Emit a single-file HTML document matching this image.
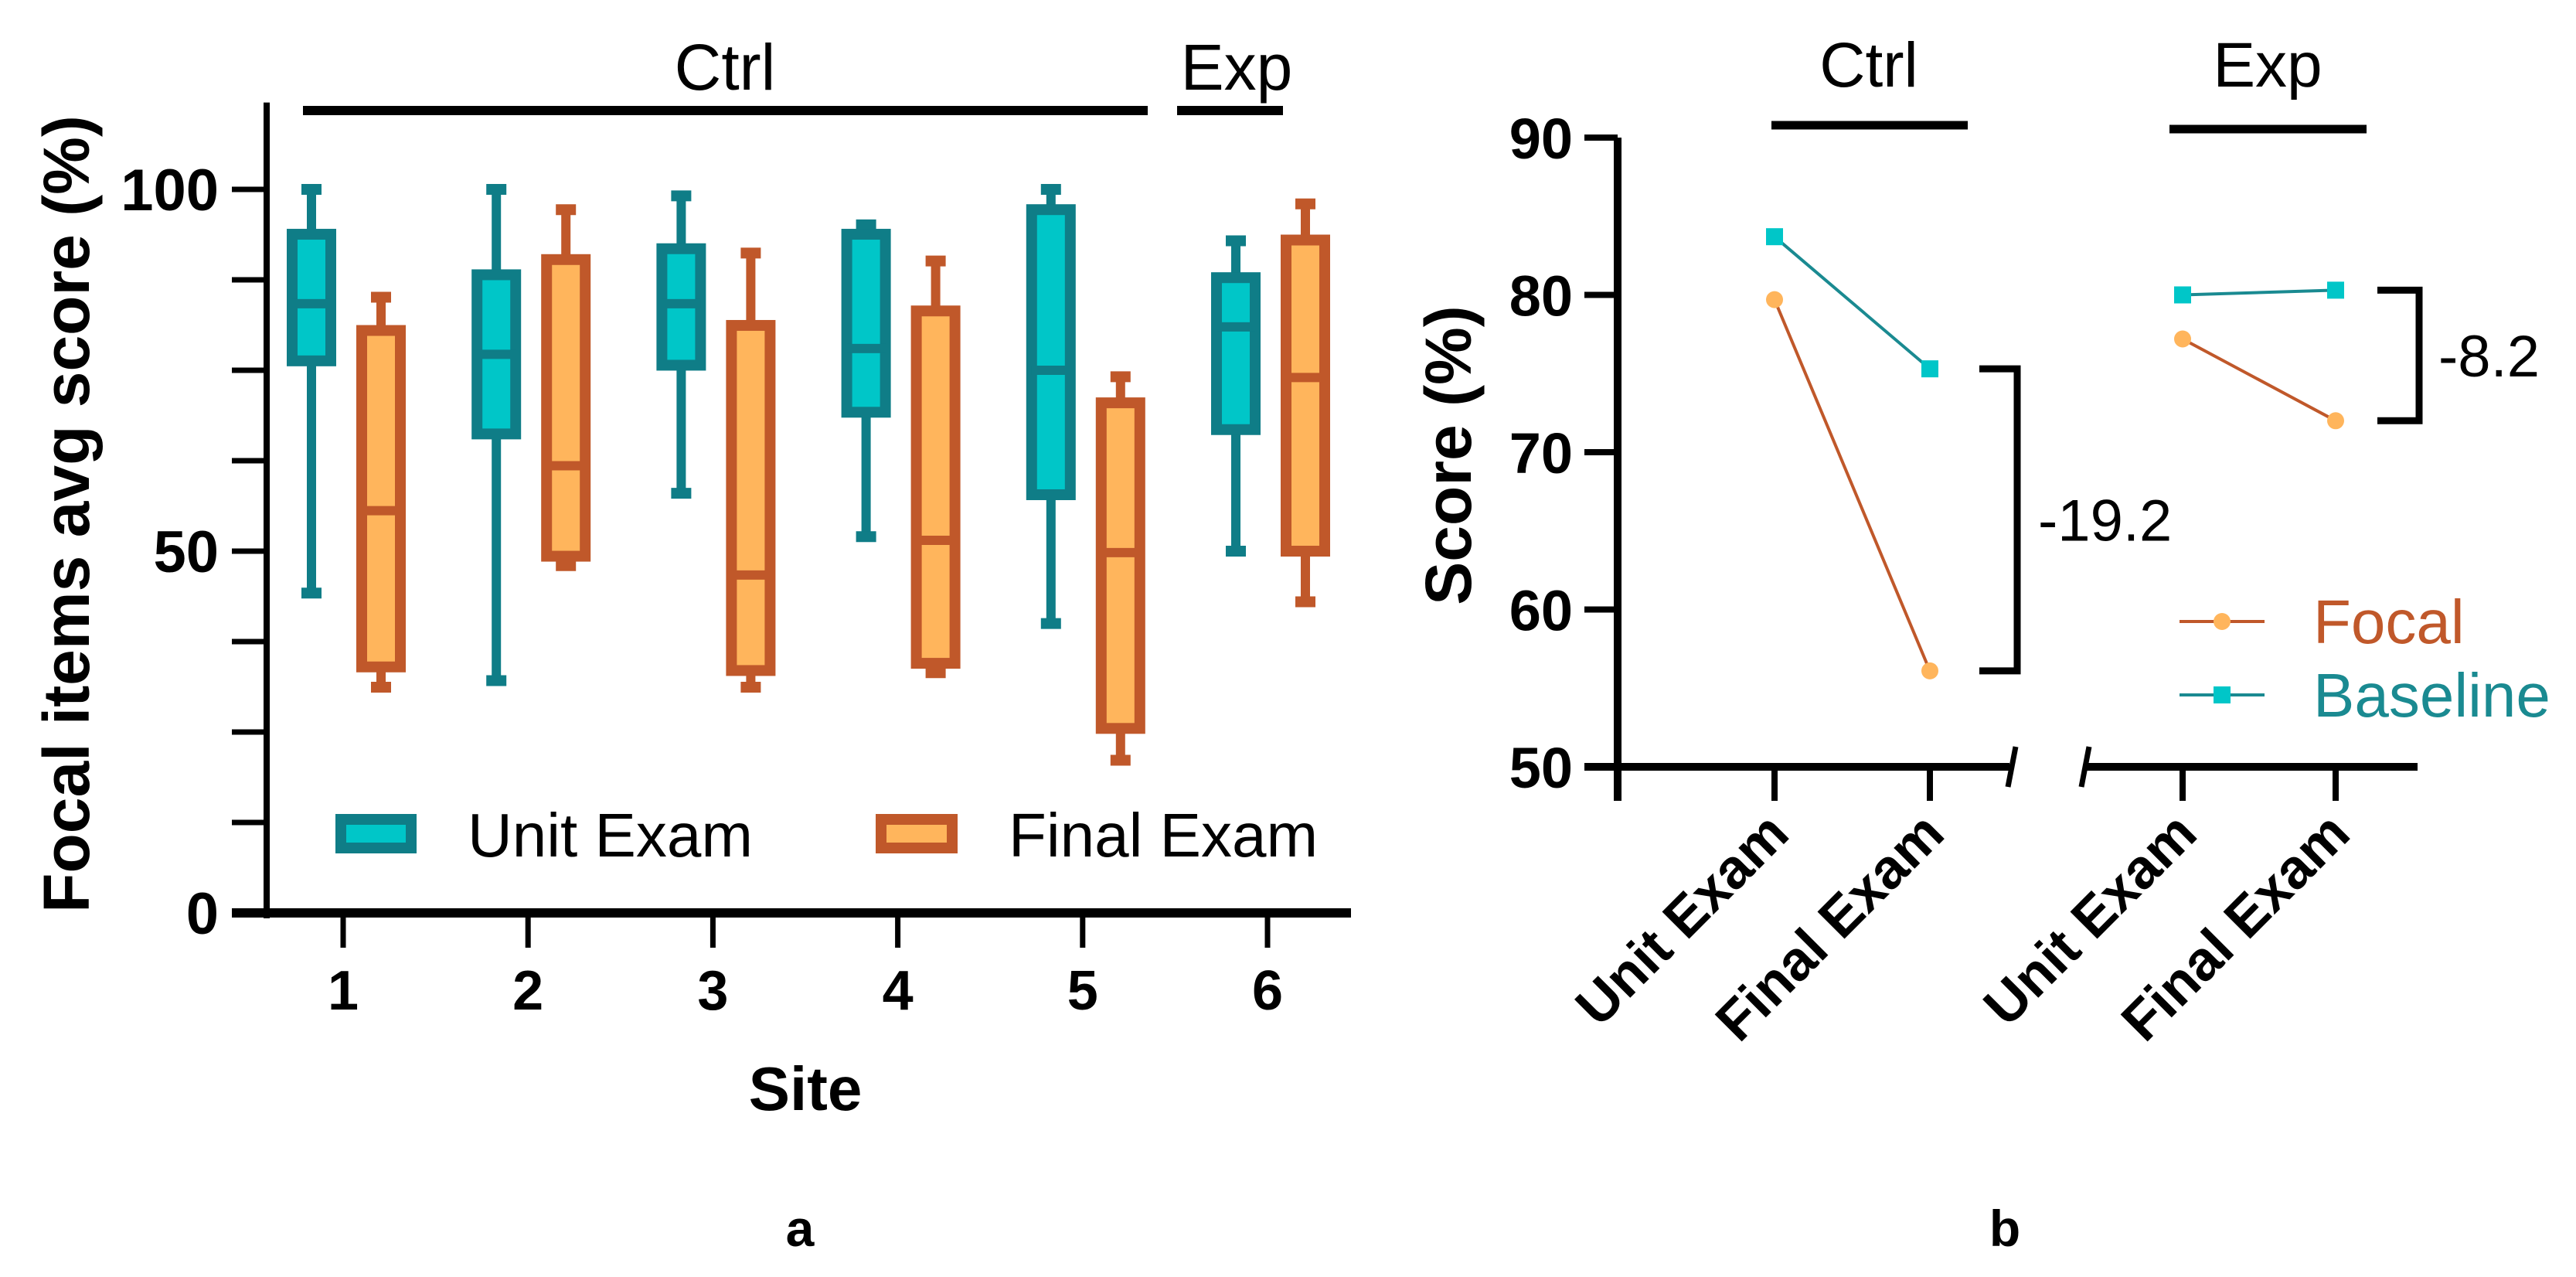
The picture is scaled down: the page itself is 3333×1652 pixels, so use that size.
<!DOCTYPE html>
<html><head><meta charset="utf-8"><style>
html,body{margin:0;padding:0;background:#fff;width:3333px;height:1652px;overflow:hidden}
svg{display:block;font-family:"Liberation Sans",Arial,sans-serif}
</style></head><body>
<svg id="chart" width="3333" height="1652" viewBox="0 0 3333 1652" xmlns="http://www.w3.org/2000/svg"></svg>
<script>
// ---- Panel a data ----
const sites = ["1","2","3","4","5","6"];
const unitMin = [44.2, 32.1, 58, 52, 40, 50];
const unitQ1  = [76.3, 66.2, 75.7, 69.2, 57.8, 66.8];
const unitMed = [84.2, 77.2, 84.2, 78, 75, 81];
const unitQ3  = [93.8, 88.2, 91.8, 93.8, 97.2, 87.8];
const unitMax = [100, 100, 99.1, 95.1, 100, 92.9];
const finMin = [31.2, 48, 31.2, 33.2, 21.1, 43];
const finQ1  = [34, 49.3, 33.5, 34.5, 25.5, 50];
const finMed = [55.6, 61.8, 46.7, 51.5, 49.8, 74];
const finQ3  = [80.5, 90.3, 81.2, 83.2, 70.5, 93];
const finMax = [85.1, 97.2, 91.2, 90.1, 74.1, 98];
const aTicks = [0, 50, 100];
// ---- Panel b data ----
const bCats = ["Unit Exam","Final Exam","Unit Exam","Final Exam"];
const focalVals = [79.7, 56.1, 77.2, 72.0];
const baseVals  = [83.7, 75.3, 80.0, 80.3];
const bTicks = [50, 60, 70, 80, 90];
const diffLabels = ["-19.2", "-8.2"];

const svg = document.getElementById('chart');
const NS = "http://www.w3.org/2000/svg";
function mk(tag, attrs, parent){ const e=document.createElementNS(NS,tag); for(const k in attrs) e.setAttribute(k,attrs[k]); (parent||svg).appendChild(e); return e; }
function txt(s, attrs, parent){ const e=mk('text',attrs,parent); e.textContent=s; return e; }

const TEAL_S="#0f7d87", TEAL_F="#00c6c8", OR_S="#c0582a", OR_F="#ffb55c";

// ---- Panel a ----
const aY = v => 1181 - v*9.36;
const aX = i => 444 + i*239.2;
const gA = mk('g',{});
 
let l = mk('line',{x1:345,y1:aY(112),x2:345,y2:1188,stroke:'#000','stroke-width':8},gA);
 
l = mk('line',{x1:300,y1:1181,x2:1748,y2:1181,stroke:'#000','stroke-width':12},gA);
 
for(let v=0; v<=100; v+=12.5){
  mk('line',{x1:300,y1:aY(v),x2:345,y2:aY(v),stroke:'#000','stroke-width':7},gA);
}
aTicks.forEach(v=>{
  const t=txt(String(v),{x:283,y:aY(v)+27,'font-size':76,'font-weight':'bold','text-anchor':'end'},gA);
   
});
sites.forEach((s,i)=>{
  mk('line',{x1:aX(i),y1:1181,x2:aX(i),y2:1226,stroke:'#000','stroke-width':7},gA);
  const t=txt(s,{x:aX(i),y:1306,'font-size':72,'font-weight':'bold','text-anchor':'middle'},gA);
   
});
function box(cx, mn, q1, md, q3, mx, sc, fc, name){
  const g=mk('g',{},gA);
   
  const w=50;
  mk('line',{x1:cx,y1:aY(mx),x2:cx,y2:aY(q3),stroke:sc,'stroke-width':12},g);
  mk('line',{x1:cx,y1:aY(q1),x2:cx,y2:aY(mn),stroke:sc,'stroke-width':12},g);
  mk('line',{x1:cx-13,y1:aY(mx),x2:cx+13,y2:aY(mx),stroke:sc,'stroke-width':14},g);
  mk('line',{x1:cx-13,y1:aY(mn),x2:cx+13,y2:aY(mn),stroke:sc,'stroke-width':14},g);
  mk('rect',{x:cx-w/2,y:aY(q3),width:w,height:aY(q1)-aY(q3),fill:fc,stroke:sc,'stroke-width':14},g);
  mk('line',{x1:cx-w/2,y1:aY(md),x2:cx+w/2,y2:aY(md),stroke:sc,'stroke-width':12},g);
}
sites.forEach((s,i)=>{
  box(aX(i)-41, unitMin[i],unitQ1[i],unitMed[i],unitQ3[i],unitMax[i],TEAL_S,TEAL_F,'box-unit-site'+s);
  box(aX(i)+49, finMin[i],finQ1[i],finMed[i],finQ3[i],finMax[i],OR_S,OR_F,'box-final-site'+s);
});
l=mk('line',{x1:392,y1:143,x2:1485,y2:143,stroke:'#000','stroke-width':12},gA);
 
l=mk('line',{x1:1523,y1:143,x2:1660,y2:143,stroke:'#000','stroke-width':12},gA);
 
let t=txt('Ctrl',{x:938,y:116,'font-size':84,'text-anchor':'middle'},gA);
 
t=txt('Exp',{x:1600,y:116,'font-size':84,'text-anchor':'middle'},gA);
 
t=txt('Focal items avg score (%)',{x:0,y:0,'font-size':84,'font-weight':'bold','text-anchor':'middle',transform:'translate(115,665) rotate(-90)'},gA);
 
t=txt('Site',{x:1042,y:1436,'font-size':80,'font-weight':'bold','text-anchor':'middle'},gA);
 
let lg=mk('g',{},gA);  
mk('rect',{x:441,y:1060,width:91,height:37,fill:TEAL_F,stroke:TEAL_S,'stroke-width':14},lg);
txt('Unit Exam',{x:605,y:1108,'font-size':80},lg);
lg=mk('g',{},gA);  
mk('rect',{x:1140,y:1060,width:92,height:37,fill:OR_F,stroke:OR_S,'stroke-width':14},lg);
txt('Final Exam',{x:1305,y:1108,'font-size':80},lg);
t=txt('a',{x:1035,y:1612,'font-size':66,'font-weight':'bold','text-anchor':'middle'});
 

// ---- Panel b ----
const bY = v => 992 - (v-50)*20.35;
const bXpos = [2296, 2497, 2824, 3022];
const bX = i => bXpos[i];
const gB=mk('g',{});  
l=mk('line',{x1:2093,y1:bY(90),x2:2093,y2:1036,stroke:'#000','stroke-width':10},gB);
 
l=mk('line',{x1:2050,y1:992,x2:2600,y2:992,stroke:'#000','stroke-width':10},gB);
 
l=mk('line',{x1:2697,y1:992,x2:3128,y2:992,stroke:'#000','stroke-width':10},gB);
 
mk('line',{x1:2608,y1:966,x2:2598,y2:1018,stroke:'#000','stroke-width':7},gB);
mk('line',{x1:2703,y1:966,x2:2693,y2:1018,stroke:'#000','stroke-width':7},gB);
bTicks.forEach(v=>{
  mk('line',{x1:2050,y1:bY(v),x2:2093,y2:bY(v),stroke:'#000','stroke-width':8},gB);
  const tt=txt(String(v),{x:2035,y:bY(v)+27,'font-size':74,'font-weight':'bold','text-anchor':'end'},gB);
   
});
bCats.forEach((c,i)=>{
  mk('line',{x1:bX(i),y1:992,x2:bX(i),y2:1036,stroke:'#000','stroke-width':8},gB);
  const tt=txt(c,{x:0,y:0,'font-size':72,'font-weight':'bold','text-anchor':'end',transform:`translate(${bX(i)+22},1082) rotate(-45)`},gB);
   
});
t=txt('Score (%)',{x:0,y:0,'font-size':84,'font-weight':'bold','text-anchor':'middle',transform:'translate(1903,589) rotate(-90)'},gB);
 
for(const pair of [[0,1],[2,3]]){
  const [a,b]=pair;
  let ln=mk('line',{x1:bX(a),y1:bY(baseVals[a]),x2:bX(b),y2:bY(baseVals[b]),stroke:'#1a8a91','stroke-width':4},gB);
   
  ln=mk('line',{x1:bX(a),y1:bY(focalVals[a]),x2:bX(b),y2:bY(focalVals[b]),stroke:OR_S,'stroke-width':4},gB);
   
}
bCats.forEach((c,i)=>{
  const m=mk('rect',{x:bX(i)-11,y:bY(baseVals[i])-11,width:22,height:22,fill:TEAL_F},gB);
   
  const p=mk('circle',{cx:bX(i),cy:bY(focalVals[i]),r:11,fill:OR_F},gB);
   
});
function bracket(x1,x2,yTop,yBot,label,tx,name){
  const g=mk('g',{},gB);  
  mk('polyline',{points:`${x1},${yTop} ${x2},${yTop} ${x2},${yBot} ${x1},${yBot}`,fill:'none',stroke:'#000','stroke-width':9},g);
  txt(label,{x:tx,y:(yTop+yBot)/2+27,'font-size':76},g);
}
bracket(2561,2610,bY(baseVals[1]),bY(focalVals[1]),diffLabels[0],2637,'ctrl-diff-bracket');
bracket(3076,3130,bY(baseVals[3]),bY(focalVals[3]),diffLabels[1],3155,'exp-diff-bracket');
l=mk('line',{x1:2292,y1:162,x2:2546,y2:162,stroke:'#000','stroke-width':11},gB);
 
l=mk('line',{x1:2807,y1:167,x2:3062,y2:167,stroke:'#000','stroke-width':11},gB);
 
t=txt('Ctrl',{x:2418,y:112,'font-size':82,'text-anchor':'middle'},gB);
 
t=txt('Exp',{x:2934,y:112,'font-size':82,'text-anchor':'middle'},gB);
 
lg=mk('g',{},gB);  
mk('line',{x1:2820,y1:804,x2:2930,y2:804,stroke:OR_S,'stroke-width':4},lg);
mk('circle',{cx:2875,cy:804,r:11,fill:OR_F},lg);
txt('Focal',{x:2993,y:832,'font-size':80,fill:OR_S},lg);
lg=mk('g',{},gB);  
mk('line',{x1:2820,y1:899,x2:2930,y2:899,stroke:'#1a8a91','stroke-width':4},lg);
mk('rect',{x:2864,y:888,width:22,height:22,fill:TEAL_F},lg);
txt('Baseline',{x:2993,y:927,'font-size':80,fill:'#1a8a91'},lg);
t=txt('b',{x:2594,y:1612,'font-size':66,'font-weight':'bold','text-anchor':'middle'});
 
</script>
</body></html>
